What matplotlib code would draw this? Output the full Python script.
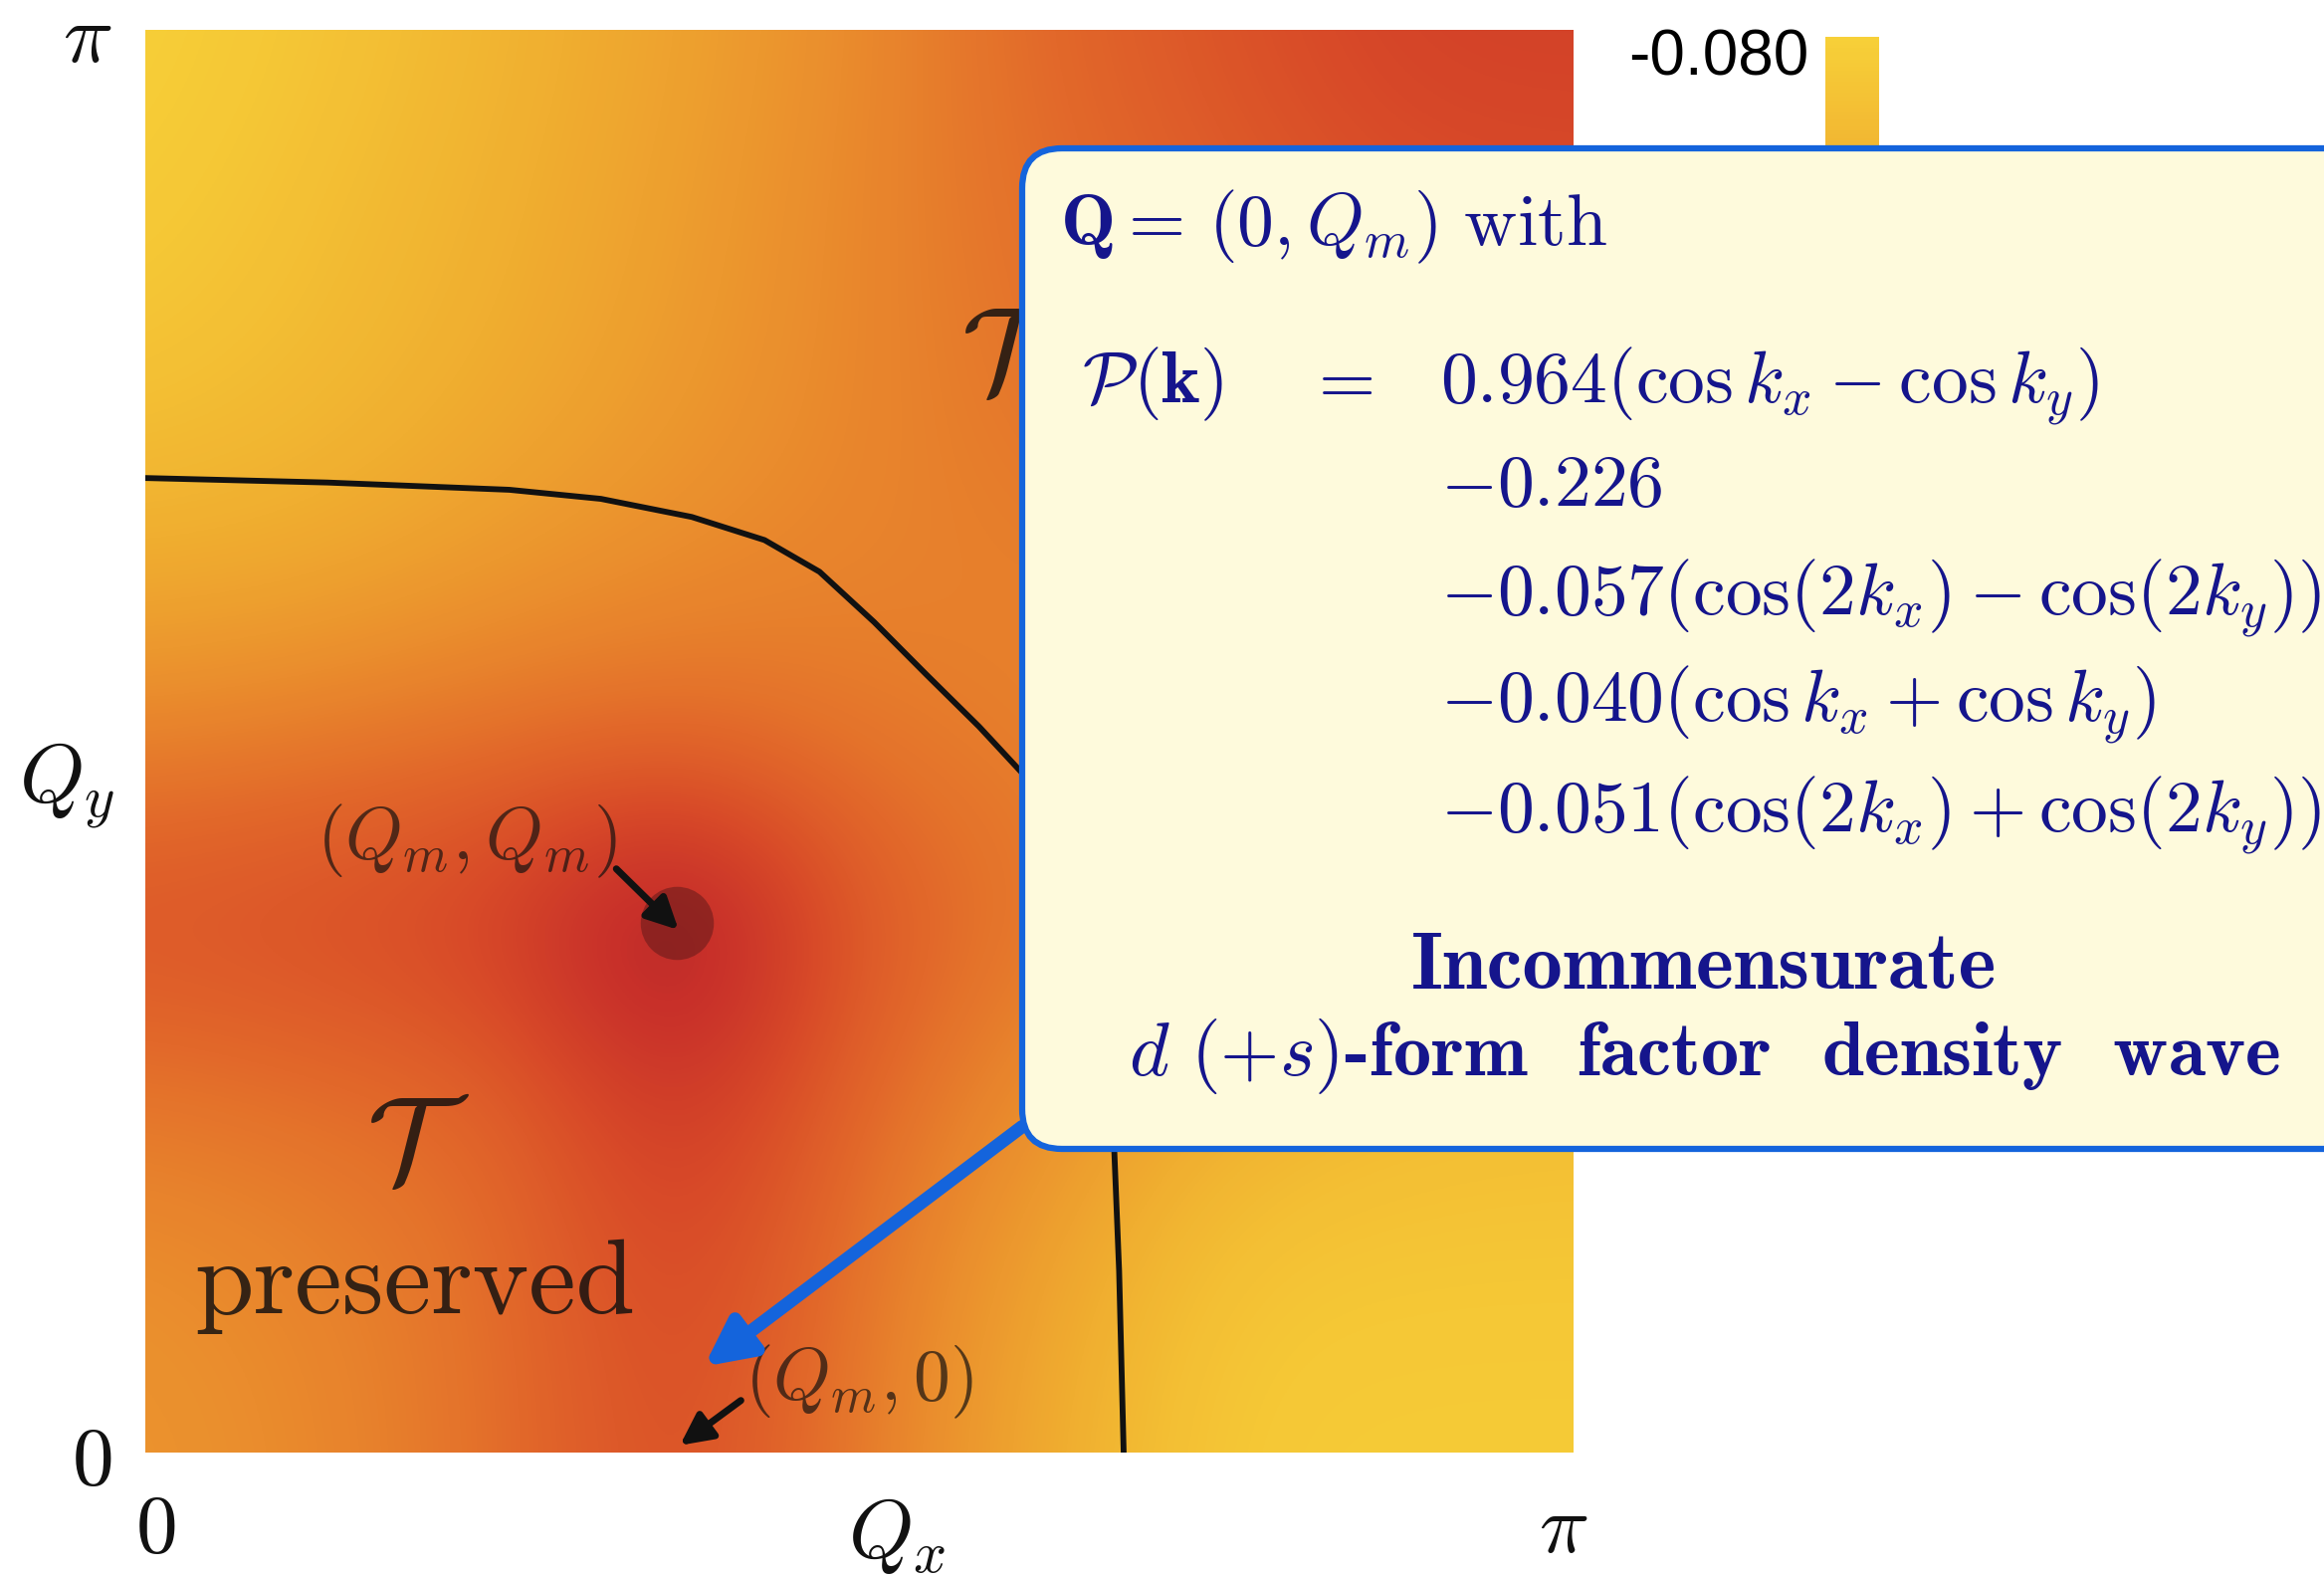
import numpy as np
import matplotlib
matplotlib.use('Agg')
import matplotlib.pyplot as plt
from matplotlib.colors import LinearSegmentedColormap
from matplotlib.patches import FancyBboxPatch
import matplotlib.transforms as mtransforms

plt.rcParams['mathtext.fontset'] = 'cm'

# field on a 9x9 grid, k = 0, pi/8, ..., pi
# rows go from Qy = 0 (bottom) to Qy = pi (top)
field = np.array([
    [-0.132, -0.142, -0.164, -0.200, -0.154, -0.112, -0.086, -0.084, -0.084],
    [-0.136, -0.146, -0.164, -0.208, -0.158, -0.120, -0.090, -0.088, -0.088],
    [-0.156, -0.164, -0.172, -0.228, -0.168, -0.138, -0.108, -0.098, -0.096],
    [-0.194, -0.200, -0.214, -0.280, -0.184, -0.160, -0.138, -0.120, -0.110],
    [-0.148, -0.156, -0.164, -0.168, -0.156, -0.150, -0.146, -0.130, -0.120],
    [-0.110, -0.114, -0.128, -0.140, -0.148, -0.150, -0.150, -0.140, -0.140],
    [-0.092, -0.100, -0.112, -0.128, -0.144, -0.160, -0.170, -0.180, -0.180],
    [-0.084, -0.096, -0.108, -0.124, -0.144, -0.164, -0.180, -0.196, -0.200],
    [-0.080, -0.090, -0.104, -0.120, -0.140, -0.170, -0.190, -0.210, -0.210],
])
vmin, vmax = -0.280, -0.080

# phase boundary (black line)
boundary_x = [0.000, 0.401, 0.801, 1.002, 1.202, 1.362, 1.483, 1.603, 1.718,
              1.834, 1.945, 2.015, 2.066, 2.106, 2.126, 2.142, 2.152]
boundary_y = [2.152, 2.142, 2.126, 2.106, 2.066, 2.015, 1.945, 1.834, 1.718,
              1.603, 1.483, 1.362, 1.202, 1.002, 0.801, 0.401, 0.000]

Qm = 1.17

cols = ['#5c1a1a', '#9a2222', '#c8302a', '#d84a28', '#e2682a', '#ea8c2d', '#f0ae30', '#f7d038']
pos = [0.0, 0.1, 0.25, 0.4, 0.55, 0.7, 0.85, 1.0]
cmap = LinearSegmentedColormap.from_list('pot', list(zip(pos, cols)))

fig = plt.figure(figsize=(23.35, 15.84), dpi=100)
ax = fig.add_axes([146/2335, 125/1584, 1435/2335, 1429/1584])

h = np.pi / 16
im = ax.imshow(field, origin='lower', extent=[-h, np.pi + h, -h, np.pi + h],
               cmap=cmap, vmin=vmin, vmax=vmax, interpolation='bicubic', aspect='auto')
ax.set_xlim(0, np.pi)
ax.set_ylim(0, np.pi)
for s in ax.spines.values():
    s.set_visible(False)

ax.plot(boundary_x, boundary_y, color='#111111', lw=4.2, solid_joinstyle='round')
ax.scatter([Qm], [Qm], s=2800, color='#5a1818', alpha=0.5, lw=0)

ax.set_xticks([0, np.pi], ['$0$', r'$\pi$'])
ax.set_yticks([0, np.pi], ['$0$', r'$\pi$'])
ax.tick_params(length=0, labelsize=60, colors='#111111')
ax.tick_params(axis='x', pad=26)
ax.tick_params(axis='y', pad=24)
xl = ax.get_xticklabels()
xl[0].set_transform(xl[0].get_transform() + mtransforms.ScaledTranslation(0.10, 0, fig.dpi_scale_trans))
xl[1].set_transform(xl[1].get_transform() + mtransforms.ScaledTranslation(-0.10, 0, fig.dpi_scale_trans))
ax.set_xlabel('$Q_x$', fontsize=60, color='#111111', va='top')
ax.xaxis.set_label_coords(0.526, -0.030)
ax.set_ylabel('$Q_y$', fontsize=60, color='#111111', rotation=0, ha='center', va='center')
ax.yaxis.set_label_coords(-0.055, 0.469)

txt = '#161210'
ax.text(0.600, 0.671, r'$\mathcal{T}$', fontsize=88, ha='center', va='center', color=txt, alpha=0.85)
ax.text(0.593, 0.366, 'preserved', family='cmr10', fontsize=77, ha='center', va='center', color=txt, alpha=0.85)
ax.text(1.906, 2.415, r'$\mathcal{T}$', fontsize=88, ha='center', va='center', color=txt, alpha=0.85)

ax.text(0.707, 1.349, r'$(Q_m, Q_m)$', fontsize=53, ha='center', va='center', color=txt, alpha=0.7)
ax.text(1.571, 0.157, r'$(Q_m, 0)$', fontsize=53, ha='center', va='center', color=txt, alpha=0.7)
ax.annotate('', xy=(1.173, 1.154), xytext=(1.036, 1.289),
            arrowprops=dict(arrowstyle='-|>', color='#111111', lw=5, mutation_scale=48, shrinkA=0, shrinkB=0))
ax.annotate('', xy=(1.176, 0.016), xytext=(1.310, 0.115),
            arrowprops=dict(arrowstyle='-|>', color='#111111', lw=5, mutation_scale=48, shrinkA=0, shrinkB=0))
ax.annotate('', xy=(1.229, 0.190), xytext=(1.929, 0.720), annotation_clip=False,
            arrowprops=dict(arrowstyle='-|>', color='#1464dc', lw=9.5, mutation_scale=70, shrinkA=0, shrinkB=0))

# colorbar, mostly covered by the box
cax = fig.add_axes([1834/2335, 584/1584, 54/2335, 963/1584])
cb = fig.colorbar(im, cax=cax, ticks=[-0.080])
cb.outline.set_visible(False)
cax.yaxis.set_ticks_position('left')
cax.set_yticklabels(['-0.080'])
cax.tick_params(length=0, pad=12, labelsize=46, colors='#000000')
off = mtransforms.ScaledTranslation(0, -15/100, fig.dpi_scale_trans)
for lbl in cax.get_yticklabels():
    lbl.set_family('Liberation Sans')
    lbl.set_transform(lbl.get_transform() + off)

# overlay with the formula box (pixel coordinates)
ov = fig.add_axes([0, 0, 1, 1], zorder=5)
ov.set_xlim(0, 2335)
ov.set_ylim(1584, 0)
ov.axis('off')
box = FancyBboxPatch((1027, 149), 1400, 1005, boxstyle='round,pad=0,rounding_size=40',
                     fc='#fefadc', ec='#1464dc', lw=4.5)
ov.add_patch(box)

navy = '#15158c'
fs = 53
ov.text(1065, 246, r'$\mathbf{Q} =\, (0, Q_m)\ \mathrm{with}$', fontsize=fs, color=navy, va='baseline')
ov.text(1087, 404, r'$\mathcal{P}(\mathbf{k})$', fontsize=fs, color=navy, va='baseline')
ov.text(1346, 404, '$=$', fontsize=fs, color=navy, va='baseline', ha='center')
rows = [r'$0.964(\cos k_x - \cos k_y)$',
        r'$-0.226$',
        r'$-0.057(\cos(2k_x) - \cos(2k_y))$',
        r'$-0.040(\cos k_x + \cos k_y)$',
        r'$-0.051(\cos(2k_x) + \cos(2k_y))$']
base = [404, 508, 617, 724, 835]
for r, b in zip(rows, base):
    ov.text(1447, b, r, fontsize=fs, color=navy, va='baseline')
ov.text(1712, 993, 'Incommensurate', family='cmb10', fontsize=58, color=navy, va='baseline', ha='center')
ov.text(1712, 1080, r'$d\ (+s)$-form  factor  density  wave', family='cmb10', fontsize=55,
        color=navy, va='baseline', ha='center')

fig.savefig('out.png', dpi=100)
